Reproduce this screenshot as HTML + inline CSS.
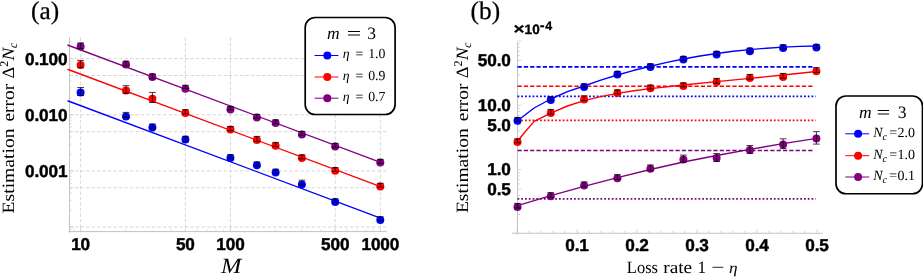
<!DOCTYPE html>
<html><head><meta charset="utf-8"><title>Estimation error plots</title>
<style>
html,body{margin:0;padding:0;background:#fff;}
body{width:923px;height:277px;overflow:hidden;font-family:"Liberation Sans",sans-serif;}
svg{display:block;will-change:transform;}
text{text-rendering:geometricPrecision;}
.sf{font-family:"Liberation Serif",serif;}
.sb{font-family:"Liberation Sans",sans-serif;font-weight:700;}
</style></head><body>
<svg width="923" height="277" viewBox="0 0 923 277">
<rect width="923" height="277" fill="#fff"/>
<g id="panelA">
<line x1="80.60" y1="37.5" x2="80.60" y2="231.6" stroke="#d3d3d3" stroke-width="0.9" stroke-dasharray="3.4 2.1"/>
<line x1="185.34" y1="37.5" x2="185.34" y2="231.6" stroke="#d3d3d3" stroke-width="0.9" stroke-dasharray="3.4 2.1"/>
<line x1="230.45" y1="37.5" x2="230.45" y2="231.6" stroke="#d3d3d3" stroke-width="0.9" stroke-dasharray="3.4 2.1"/>
<line x1="335.19" y1="37.5" x2="335.19" y2="231.6" stroke="#d3d3d3" stroke-width="0.9" stroke-dasharray="3.4 2.1"/>
<line x1="380.30" y1="37.5" x2="380.30" y2="231.6" stroke="#d3d3d3" stroke-width="0.9" stroke-dasharray="3.4 2.1"/>
<line x1="69.5" y1="58.60" x2="387.0" y2="58.60" stroke="#d3d3d3" stroke-width="0.9" stroke-dasharray="3.4 2.1"/>
<line x1="69.5" y1="75.50" x2="387.0" y2="75.50" stroke="#d3d3d3" stroke-width="0.9" stroke-dasharray="3.4 2.1"/>
<line x1="69.5" y1="114.75" x2="387.0" y2="114.75" stroke="#d3d3d3" stroke-width="0.9" stroke-dasharray="3.4 2.1"/>
<line x1="69.5" y1="131.65" x2="387.0" y2="131.65" stroke="#d3d3d3" stroke-width="0.9" stroke-dasharray="3.4 2.1"/>
<line x1="69.5" y1="170.90" x2="387.0" y2="170.90" stroke="#d3d3d3" stroke-width="0.9" stroke-dasharray="3.4 2.1"/>
<line x1="69.5" y1="187.80" x2="387.0" y2="187.80" stroke="#d3d3d3" stroke-width="0.9" stroke-dasharray="3.4 2.1"/>
<line x1="69.5" y1="227.05" x2="387.0" y2="227.05" stroke="#d3d3d3" stroke-width="0.9" stroke-dasharray="3.4 2.1"/>
<path d="M69.5 37.5V232.6M68.3 231.6H387.0" fill="none" stroke="#c2c2c2" stroke-width="1"/>
<path d="M69.5 229.62h2M69.5 227.05h4M69.5 210.15h2M69.5 200.26h2M69.5 193.24h2M69.5 187.80h3M69.5 183.36h2M69.5 179.60h2M69.5 176.34h2M69.5 173.47h2M69.5 170.90h4M69.5 154.00h2M69.5 144.11h2M69.5 137.09h2M69.5 131.65h3M69.5 127.21h2M69.5 123.45h2M69.5 120.19h2M69.5 117.32h2M69.5 114.75h4M69.5 97.85h2M69.5 87.96h2M69.5 80.94h2M69.5 75.50h3M69.5 71.06h2M69.5 67.30h2M69.5 64.04h2M69.5 61.17h2M69.5 58.60h4M69.5 41.70h2M73.74 231.6v-2M80.60 231.6v-4M125.71 231.6v-2M152.10 231.6v-2M170.82 231.6v-2M185.34 231.6v-3M197.21 231.6v-2M207.24 231.6v-2M215.93 231.6v-2M223.59 231.6v-2M230.45 231.6v-4M275.56 231.6v-2M301.95 231.6v-2M320.67 231.6v-2M335.19 231.6v-3M347.06 231.6v-2M357.09 231.6v-2M365.78 231.6v-2M373.44 231.6v-2M380.30 231.6v-4" fill="none" stroke="#cdcdcd" stroke-width="0.8"/>
<line x1="67.5" y1="100.75" x2="380.5" y2="218.03" stroke="#0000ff" stroke-width="1.35"/>
<line x1="67.5" y1="69.25" x2="380.5" y2="186.53" stroke="#ff0000" stroke-width="1.35"/>
<line x1="67.5" y1="45.0" x2="380.5" y2="162.28" stroke="#800080" stroke-width="1.35"/>
<circle cx="80.60" cy="92.50" r="4.0" fill="#0000ff"/>
<path d="M80.60 87.50V95.50M77.20 87.50h6.8M77.20 95.50h6.8" fill="none" stroke="#000" stroke-opacity="0.74" stroke-width="1"/>
<circle cx="126.00" cy="116.50" r="4.0" fill="#0000ff"/>
<path d="M126.00 112.40V117.30M122.60 112.40h6.8M122.60 117.30h6.8" fill="none" stroke="#000" stroke-opacity="0.74" stroke-width="1"/>
<circle cx="152.40" cy="127.50" r="4.0" fill="#0000ff"/>
<path d="M152.40 124.00V128.30M149.00 124.00h6.8M149.00 128.30h6.8" fill="none" stroke="#000" stroke-opacity="0.74" stroke-width="1"/>
<circle cx="185.40" cy="139.50" r="4.0" fill="#0000ff"/>
<path d="M185.40 136.30V141.80M182.00 136.30h6.8M182.00 141.80h6.8" fill="none" stroke="#000" stroke-opacity="0.74" stroke-width="1"/>
<circle cx="230.45" cy="158.00" r="4.0" fill="#0000ff"/>
<path d="M230.45 154.70V158.80M227.05 154.70h6.8M227.05 158.80h6.8" fill="none" stroke="#000" stroke-opacity="0.74" stroke-width="1"/>
<circle cx="256.90" cy="165.25" r="4.0" fill="#0000ff"/>
<path d="M256.90 161.95V166.05M253.50 161.95h6.8M253.50 166.05h6.8" fill="none" stroke="#000" stroke-opacity="0.74" stroke-width="1"/>
<circle cx="275.60" cy="172.50" r="4.0" fill="#0000ff"/>
<path d="M275.60 169.20V173.30M272.20 169.20h6.8M272.20 173.30h6.8" fill="none" stroke="#000" stroke-opacity="0.74" stroke-width="1"/>
<circle cx="301.90" cy="184.40" r="4.0" fill="#0000ff"/>
<path d="M301.90 180.20V185.20M298.50 180.20h6.8M298.50 185.20h6.8" fill="none" stroke="#000" stroke-opacity="0.74" stroke-width="1"/>
<circle cx="335.20" cy="202.00" r="4.0" fill="#0000ff"/>
<path d="M335.20 198.90V202.80M331.80 198.90h6.8M331.80 202.80h6.8" fill="none" stroke="#000" stroke-opacity="0.74" stroke-width="1"/>
<circle cx="380.30" cy="220.00" r="4.0" fill="#0000ff"/>
<path d="M380.30 216.90V220.80M376.90 216.90h6.8M376.90 220.80h6.8" fill="none" stroke="#000" stroke-opacity="0.74" stroke-width="1"/>
<circle cx="80.60" cy="65.00" r="4.0" fill="#ff0000"/>
<path d="M80.60 60.40V67.70M77.20 60.40h6.8M77.20 67.70h6.8" fill="none" stroke="#000" stroke-opacity="0.74" stroke-width="1"/>
<circle cx="126.00" cy="90.50" r="4.0" fill="#ff0000"/>
<path d="M126.00 85.70V93.30M122.60 85.70h6.8M122.60 93.30h6.8" fill="none" stroke="#000" stroke-opacity="0.74" stroke-width="1"/>
<circle cx="152.40" cy="98.75" r="4.0" fill="#ff0000"/>
<path d="M152.40 92.45V102.45M149.00 92.45h6.8M149.00 102.45h6.8" fill="none" stroke="#000" stroke-opacity="0.74" stroke-width="1"/>
<circle cx="185.40" cy="113.00" r="4.0" fill="#ff0000"/>
<path d="M185.40 109.70V113.90M182.00 109.70h6.8M182.00 113.90h6.8" fill="none" stroke="#000" stroke-opacity="0.74" stroke-width="1"/>
<circle cx="230.45" cy="129.50" r="4.0" fill="#ff0000"/>
<path d="M230.45 126.60V130.70M227.05 126.60h6.8M227.05 130.70h6.8" fill="none" stroke="#000" stroke-opacity="0.74" stroke-width="1"/>
<circle cx="256.90" cy="140.00" r="4.0" fill="#ff0000"/>
<path d="M256.90 136.40V141.40M253.50 136.40h6.8M253.50 141.40h6.8" fill="none" stroke="#000" stroke-opacity="0.74" stroke-width="1"/>
<circle cx="275.60" cy="145.75" r="4.0" fill="#ff0000"/>
<path d="M275.60 142.65V146.55M272.20 142.65h6.8M272.20 146.55h6.8" fill="none" stroke="#000" stroke-opacity="0.74" stroke-width="1"/>
<circle cx="301.90" cy="158.00" r="4.0" fill="#ff0000"/>
<path d="M301.90 154.90V158.80M298.50 154.90h6.8M298.50 158.80h6.8" fill="none" stroke="#000" stroke-opacity="0.74" stroke-width="1"/>
<circle cx="335.20" cy="170.75" r="4.0" fill="#ff0000"/>
<path d="M335.20 167.65V171.55M331.80 167.65h6.8M331.80 171.55h6.8" fill="none" stroke="#000" stroke-opacity="0.74" stroke-width="1"/>
<circle cx="380.30" cy="186.40" r="4.0" fill="#ff0000"/>
<path d="M380.30 183.30V187.20M376.90 183.30h6.8M376.90 187.20h6.8" fill="none" stroke="#000" stroke-opacity="0.74" stroke-width="1"/>
<circle cx="80.60" cy="46.60" r="4.0" fill="#800080"/>
<path d="M80.60 43.00V48.60M77.20 43.00h6.8M77.20 48.60h6.8" fill="none" stroke="#000" stroke-opacity="0.74" stroke-width="1"/>
<circle cx="126.00" cy="64.50" r="4.0" fill="#800080"/>
<path d="M126.00 61.20V65.90M122.60 61.20h6.8M122.60 65.90h6.8" fill="none" stroke="#000" stroke-opacity="0.74" stroke-width="1"/>
<circle cx="152.40" cy="77.00" r="4.0" fill="#800080"/>
<path d="M152.40 74.00V78.80M149.00 74.00h6.8M149.00 78.80h6.8" fill="none" stroke="#000" stroke-opacity="0.74" stroke-width="1"/>
<circle cx="185.40" cy="88.75" r="4.0" fill="#800080"/>
<path d="M185.40 85.25V88.45M182.00 85.25h6.8M182.00 88.45h6.8" fill="none" stroke="#000" stroke-opacity="0.74" stroke-width="1"/>
<circle cx="230.45" cy="109.50" r="4.0" fill="#800080"/>
<path d="M230.45 106.50V109.80M227.05 106.50h6.8M227.05 109.80h6.8" fill="none" stroke="#000" stroke-opacity="0.74" stroke-width="1"/>
<circle cx="256.90" cy="117.50" r="4.0" fill="#800080"/>
<path d="M256.90 114.40V118.30M253.50 114.40h6.8M253.50 118.30h6.8" fill="none" stroke="#000" stroke-opacity="0.74" stroke-width="1"/>
<circle cx="275.60" cy="123.00" r="4.0" fill="#800080"/>
<path d="M275.60 119.90V123.80M272.20 119.90h6.8M272.20 123.80h6.8" fill="none" stroke="#000" stroke-opacity="0.74" stroke-width="1"/>
<circle cx="301.90" cy="134.50" r="4.0" fill="#800080"/>
<path d="M301.90 131.40V135.30M298.50 131.40h6.8M298.50 135.30h6.8" fill="none" stroke="#000" stroke-opacity="0.74" stroke-width="1"/>
<circle cx="335.20" cy="146.50" r="4.0" fill="#800080"/>
<path d="M335.20 143.40V147.30M331.80 143.40h6.8M331.80 147.30h6.8" fill="none" stroke="#000" stroke-opacity="0.74" stroke-width="1"/>
<circle cx="380.30" cy="162.50" r="4.0" fill="#800080"/>
<path d="M380.30 159.40V163.30M376.90 159.40h6.8M376.90 163.30h6.8" fill="none" stroke="#000" stroke-opacity="0.74" stroke-width="1"/>
<text x="67.3" y="64.50" text-anchor="end" class="sb" font-size="17.2" letter-spacing="-0.15" fill="#000" stroke="#000" stroke-width="0.45" stroke-linejoin="round">0.100</text>
<text x="67.3" y="120.65" text-anchor="end" class="sb" font-size="17.2" letter-spacing="-0.15" fill="#000" stroke="#000" stroke-width="0.45" stroke-linejoin="round">0.010</text>
<text x="67.3" y="176.80" text-anchor="end" class="sb" font-size="17.2" letter-spacing="-0.15" fill="#000" stroke="#000" stroke-width="0.45" stroke-linejoin="round">0.001</text>
<text x="80.60" y="250.3" text-anchor="middle" class="sb" font-size="17.2" letter-spacing="-0.15" fill="#000" stroke="#000" stroke-width="0.45" stroke-linejoin="round">10</text>
<text x="185.34" y="250.3" text-anchor="middle" class="sb" font-size="17.2" letter-spacing="-0.15" fill="#000" stroke="#000" stroke-width="0.45" stroke-linejoin="round">50</text>
<text x="230.45" y="250.3" text-anchor="middle" class="sb" font-size="17.2" letter-spacing="-0.15" fill="#000" stroke="#000" stroke-width="0.45" stroke-linejoin="round">100</text>
<text x="335.19" y="250.3" text-anchor="middle" class="sb" font-size="17.2" letter-spacing="-0.15" fill="#000" stroke="#000" stroke-width="0.45" stroke-linejoin="round">500</text>
<text x="380.30" y="250.3" text-anchor="middle" class="sb" font-size="17.2" letter-spacing="-0.15" fill="#000" stroke="#000" stroke-width="0.45" stroke-linejoin="round">1000</text>
<text x="221.0" y="273.2" class="sf" font-style="italic" font-size="21.7" textLength="20.4" lengthAdjust="spacingAndGlyphs">M</text>
<g transform="translate(14.4 213.1) rotate(-90)" class="sf" font-size="17.3" fill="#000"><text x="-0.30" y="0" textLength="84.90" lengthAdjust="spacingAndGlyphs" >Estimation</text><text x="91.60" y="0" textLength="37.70" lengthAdjust="spacingAndGlyphs" >error</text><text x="134.60" y="0" textLength="11.80" lengthAdjust="spacingAndGlyphs" >Δ</text><text x="146.3" y="-6.4" font-size="12" textLength="6" lengthAdjust="spacingAndGlyphs">2</text><text x="152.60" y="0" textLength="12.80" lengthAdjust="spacingAndGlyphs" font-style="italic">N</text><text x="165.0" y="2.8" font-size="12" font-style="italic" textLength="5.2" lengthAdjust="spacingAndGlyphs">c</text></g>
<text x="31.0" y="18.95" class="sf" font-size="25.3" stroke="#000" stroke-width="0.25">(a)</text>
<rect x="305.2" y="17.5" width="89.9" height="97.0" rx="10" ry="10" fill="#fff" stroke="#000" stroke-width="1.7"/>
<text class="sf" font-size="17.5" y="38.5"><tspan x="327.1" font-style="italic">m</tspan><tspan x="346.70000000000005" textLength="14.5" lengthAdjust="spacingAndGlyphs">=</tspan><tspan x="367.3">3</tspan></text>
<line x1="314.5" y1="55.5" x2="338.4" y2="55.5" stroke="#0000ff" stroke-width="1"/>
<circle cx="327.3" cy="55.5" r="4" fill="#0000ff"/>
<text class="sf" font-size="13.8" y="58.2"><tspan x="342.8" font-style="italic">η</tspan><tspan x="355.59999999999997">=</tspan><tspan x="368.2">1.0</tspan></text>
<line x1="314.5" y1="77" x2="338.4" y2="77" stroke="#ff0000" stroke-width="1"/>
<circle cx="327.3" cy="77" r="4" fill="#ff0000"/>
<text class="sf" font-size="13.8" y="79.7"><tspan x="342.8" font-style="italic">η</tspan><tspan x="355.59999999999997">=</tspan><tspan x="368.2">0.9</tspan></text>
<line x1="314.5" y1="98.2" x2="338.4" y2="98.2" stroke="#800080" stroke-width="1"/>
<circle cx="327.3" cy="98.2" r="4" fill="#800080"/>
<text class="sf" font-size="13.8" y="100.9"><tspan x="342.8" font-style="italic">η</tspan><tspan x="355.59999999999997">=</tspan><tspan x="368.2">0.7</tspan></text>
</g>
<g id="panelB">
<path d="M517.5 42.0V234.55M512 233.25H823.0" fill="none" stroke="#c2c2c2" stroke-width="1"/>
<path d="M517.5 214.64h2.5M517.5 203.32h2.5M517.5 195.29h2.5M517.5 189.06h4M517.5 183.96h2.5M517.5 179.66h2.5M517.5 175.93h2.5M517.5 172.64h2.5M517.5 169.70h4M517.5 150.34h2.5M517.5 139.02h2.5M517.5 130.99h2.5M517.5 124.76h4M517.5 119.66h2.5M517.5 115.36h2.5M517.5 111.63h2.5M517.5 108.34h2.5M517.5 105.40h4M517.5 86.04h2.5M517.5 74.72h2.5M517.5 66.69h2.5M517.5 60.46h4M517.5 55.36h2.5M517.5 51.06h2.5M517.5 47.33h2.5M517.5 44.04h2.5M517.5 41.10h4M517.00 233.25v-4M529.00 233.25v-2.5M541.00 233.25v-2.5M553.00 233.25v-2.5M565.00 233.25v-2.5M577.00 233.25v-4M589.00 233.25v-2.5M601.00 233.25v-2.5M613.00 233.25v-2.5M625.00 233.25v-2.5M637.00 233.25v-4M649.00 233.25v-2.5M661.00 233.25v-2.5M673.00 233.25v-2.5M685.00 233.25v-2.5M697.00 233.25v-4M709.00 233.25v-2.5M721.00 233.25v-2.5M733.00 233.25v-2.5M745.00 233.25v-2.5M757.00 233.25v-4M769.00 233.25v-2.5M781.00 233.25v-2.5M793.00 233.25v-2.5M805.00 233.25v-2.5M817.00 233.25v-4" fill="none" stroke="#cdcdcd" stroke-width="0.8"/>
<line x1="517.5" y1="66.9" x2="814.6" y2="66.9" stroke="#0000ff" stroke-width="1.65" stroke-dasharray="4.25 2.07"/>
<line x1="517.5" y1="86.25" x2="814.6" y2="86.25" stroke="#ff0000" stroke-width="1.65" stroke-dasharray="4.25 2.07"/>
<line x1="517.5" y1="96.4" x2="815.8" y2="96.4" stroke="#0000ff" stroke-width="1.65" stroke-dasharray="1.75 2.02"/>
<line x1="517.5" y1="120.3" x2="815.8" y2="120.3" stroke="#ff0000" stroke-width="1.65" stroke-dasharray="1.75 2.02"/>
<line x1="517.5" y1="150.5" x2="814.6" y2="150.5" stroke="#800080" stroke-width="1.65" stroke-dasharray="4.25 2.07"/>
<line x1="517.5" y1="198.8" x2="815.8" y2="198.8" stroke="#800080" stroke-width="1.65" stroke-dasharray="1.75 2.02"/>
<path d="M517.50 120.70L534.10 108.00L550.75 99.00L567.40 91.70L584.10 86.00L600.80 80.20L617.40 75.00L634.00 70.30L650.40 66.20L667.00 62.40L683.40 59.00L700.00 56.00L716.60 53.50L733.20 51.30L749.90 49.60L766.50 48.20L783.10 47.10L800.00 46.40L816.40 46.00" fill="none" stroke="#0000ff" stroke-width="1.4" stroke-linejoin="round"/>
<path d="M517.50 141.30L525.00 132.00L534.10 121.40L550.75 113.20L567.40 106.00L584.10 100.60L600.80 96.60L617.40 93.40L634.00 90.80L650.40 88.60L683.40 85.00L716.60 81.60L749.90 78.40L783.10 75.00L816.40 71.50" fill="none" stroke="#ff0000" stroke-width="1.4" stroke-linejoin="round"/>
<path d="M517.50 205.60L550.75 195.60L584.10 186.40L617.40 177.60L650.40 169.50L683.40 162.00L716.60 155.50L749.90 149.40L783.10 143.60L816.40 138.40" fill="none" stroke="#800080" stroke-width="1.4" stroke-linejoin="round"/>
<circle cx="517.50" cy="120.75" r="4.0" fill="#0000ff"/>
<path d="M517.50 117.65V121.55M514.10 117.65h6.8M514.10 121.55h6.8" fill="none" stroke="#000" stroke-opacity="0.74" stroke-width="1"/>
<circle cx="550.75" cy="100.00" r="4.0" fill="#0000ff"/>
<path d="M550.75 96.90V100.80M547.35 96.90h6.8M547.35 100.80h6.8" fill="none" stroke="#000" stroke-opacity="0.74" stroke-width="1"/>
<circle cx="584.10" cy="87.00" r="4.0" fill="#0000ff"/>
<path d="M584.10 83.90V87.80M580.70 83.90h6.8M580.70 87.80h6.8" fill="none" stroke="#000" stroke-opacity="0.74" stroke-width="1"/>
<circle cx="617.40" cy="74.50" r="4.0" fill="#0000ff"/>
<path d="M617.40 71.40V75.30M614.00 71.40h6.8M614.00 75.30h6.8" fill="none" stroke="#000" stroke-opacity="0.74" stroke-width="1"/>
<circle cx="650.40" cy="66.90" r="4.0" fill="#0000ff"/>
<path d="M650.40 63.80V67.70M647.00 63.80h6.8M647.00 67.70h6.8" fill="none" stroke="#000" stroke-opacity="0.74" stroke-width="1"/>
<circle cx="683.40" cy="59.50" r="4.0" fill="#0000ff"/>
<path d="M683.40 56.40V60.30M680.00 56.40h6.8M680.00 60.30h6.8" fill="none" stroke="#000" stroke-opacity="0.74" stroke-width="1"/>
<circle cx="716.60" cy="54.50" r="4.0" fill="#0000ff"/>
<path d="M716.60 51.40V55.30M713.20 51.40h6.8M713.20 55.30h6.8" fill="none" stroke="#000" stroke-opacity="0.74" stroke-width="1"/>
<circle cx="749.90" cy="51.25" r="4.0" fill="#0000ff"/>
<path d="M749.90 48.15V52.05M746.50 48.15h6.8M746.50 52.05h6.8" fill="none" stroke="#000" stroke-opacity="0.74" stroke-width="1"/>
<circle cx="783.10" cy="48.00" r="4.0" fill="#0000ff"/>
<path d="M783.10 44.90V48.80M779.70 44.90h6.8M779.70 48.80h6.8" fill="none" stroke="#000" stroke-opacity="0.74" stroke-width="1"/>
<circle cx="816.40" cy="47.50" r="4.0" fill="#0000ff"/>
<path d="M816.40 44.40V48.30M813.00 44.40h6.8M813.00 48.30h6.8" fill="none" stroke="#000" stroke-opacity="0.74" stroke-width="1"/>
<circle cx="517.50" cy="142.00" r="4.0" fill="#ff0000"/>
<path d="M517.50 138.90V142.80M514.10 138.90h6.8M514.10 142.80h6.8" fill="none" stroke="#000" stroke-opacity="0.74" stroke-width="1"/>
<circle cx="550.75" cy="113.00" r="4.0" fill="#ff0000"/>
<path d="M550.75 109.40V114.20M547.35 109.40h6.8M547.35 114.20h6.8" fill="none" stroke="#000" stroke-opacity="0.74" stroke-width="1"/>
<circle cx="584.10" cy="99.50" r="4.0" fill="#ff0000"/>
<path d="M584.10 95.90V100.70M580.70 95.90h6.8M580.70 100.70h6.8" fill="none" stroke="#000" stroke-opacity="0.74" stroke-width="1"/>
<circle cx="617.40" cy="93.00" r="4.0" fill="#ff0000"/>
<path d="M617.40 89.90V93.80M614.00 89.90h6.8M614.00 93.80h6.8" fill="none" stroke="#000" stroke-opacity="0.74" stroke-width="1"/>
<circle cx="650.40" cy="88.25" r="4.0" fill="#ff0000"/>
<path d="M650.40 85.15V89.05M647.00 85.15h6.8M647.00 89.05h6.8" fill="none" stroke="#000" stroke-opacity="0.74" stroke-width="1"/>
<circle cx="683.40" cy="86.00" r="4.0" fill="#ff0000"/>
<path d="M683.40 82.90V86.80M680.00 82.90h6.8M680.00 86.80h6.8" fill="none" stroke="#000" stroke-opacity="0.74" stroke-width="1"/>
<circle cx="716.60" cy="82.00" r="4.0" fill="#ff0000"/>
<path d="M716.60 78.40V83.20M713.20 78.40h6.8M713.20 83.20h6.8" fill="none" stroke="#000" stroke-opacity="0.74" stroke-width="1"/>
<circle cx="749.90" cy="78.00" r="4.0" fill="#ff0000"/>
<path d="M749.90 74.40V79.20M746.50 74.40h6.8M746.50 79.20h6.8" fill="none" stroke="#000" stroke-opacity="0.74" stroke-width="1"/>
<circle cx="783.10" cy="77.00" r="4.0" fill="#ff0000"/>
<path d="M783.10 73.40V78.20M779.70 73.40h6.8M779.70 78.20h6.8" fill="none" stroke="#000" stroke-opacity="0.74" stroke-width="1"/>
<circle cx="816.40" cy="71.25" r="4.0" fill="#ff0000"/>
<path d="M816.40 67.65V72.45M813.00 67.65h6.8M813.00 72.45h6.8" fill="none" stroke="#000" stroke-opacity="0.74" stroke-width="1"/>
<circle cx="517.50" cy="207.00" r="4.0" fill="#800080"/>
<path d="M517.50 203.40V208.00M514.10 203.40h6.8M514.10 208.00h6.8" fill="none" stroke="#000" stroke-opacity="0.74" stroke-width="1"/>
<circle cx="550.75" cy="196.25" r="4.0" fill="#800080"/>
<path d="M550.75 192.65V197.45M547.35 192.65h6.8M547.35 197.45h6.8" fill="none" stroke="#000" stroke-opacity="0.74" stroke-width="1"/>
<circle cx="584.10" cy="185.50" r="4.0" fill="#800080"/>
<path d="M584.10 181.90V186.70M580.70 181.90h6.8M580.70 186.70h6.8" fill="none" stroke="#000" stroke-opacity="0.74" stroke-width="1"/>
<circle cx="617.40" cy="178.25" r="4.0" fill="#800080"/>
<path d="M617.40 174.65V179.45M614.00 174.65h6.8M614.00 179.45h6.8" fill="none" stroke="#000" stroke-opacity="0.74" stroke-width="1"/>
<circle cx="650.40" cy="168.75" r="4.0" fill="#800080"/>
<path d="M650.40 164.95V170.35M647.00 164.95h6.8M647.00 170.35h6.8" fill="none" stroke="#000" stroke-opacity="0.74" stroke-width="1"/>
<circle cx="683.40" cy="159.50" r="4.0" fill="#800080"/>
<path d="M683.40 155.10V162.10M680.00 155.10h6.8M680.00 162.10h6.8" fill="none" stroke="#000" stroke-opacity="0.74" stroke-width="1"/>
<circle cx="716.60" cy="158.00" r="4.0" fill="#800080"/>
<path d="M716.60 153.50V161.50M713.20 153.50h6.8M713.20 161.50h6.8" fill="none" stroke="#000" stroke-opacity="0.74" stroke-width="1"/>
<circle cx="749.90" cy="150.00" r="4.0" fill="#800080"/>
<path d="M749.90 145.50V153.40M746.50 145.50h6.8M746.50 153.40h6.8" fill="none" stroke="#000" stroke-opacity="0.74" stroke-width="1"/>
<circle cx="783.10" cy="144.50" r="4.0" fill="#800080"/>
<path d="M783.10 138.80V148.60M779.70 138.80h6.8M779.70 148.60h6.8" fill="none" stroke="#000" stroke-opacity="0.74" stroke-width="1"/>
<circle cx="816.40" cy="138.50" r="4.0" fill="#800080"/>
<path d="M816.40 131.60V144.10M813.00 131.60h6.8M813.00 144.10h6.8" fill="none" stroke="#000" stroke-opacity="0.74" stroke-width="1"/>
<text x="510.7" y="65.60" text-anchor="end" class="sb" font-size="17.2" letter-spacing="-0.15" fill="#000" stroke="#000" stroke-width="0.45" stroke-linejoin="round">50.0</text>
<text x="510.7" y="110.55" text-anchor="end" class="sb" font-size="17.2" letter-spacing="-0.15" fill="#000" stroke="#000" stroke-width="0.45" stroke-linejoin="round">10.0</text>
<text x="510.7" y="131.40" text-anchor="end" class="sb" font-size="17.2" letter-spacing="-0.15" fill="#000" stroke="#000" stroke-width="0.45" stroke-linejoin="round">5.0</text>
<text x="510.7" y="175.25" text-anchor="end" class="sb" font-size="17.2" letter-spacing="-0.15" fill="#000" stroke="#000" stroke-width="0.45" stroke-linejoin="round">1.0</text>
<text x="510.7" y="194.90" text-anchor="end" class="sb" font-size="17.2" letter-spacing="-0.15" fill="#000" stroke="#000" stroke-width="0.45" stroke-linejoin="round">0.5</text>
<text x="577.00" y="250.5" text-anchor="middle" class="sb" font-size="17.2" letter-spacing="-0.15" fill="#000" stroke="#000" stroke-width="0.45" stroke-linejoin="round">0.1</text>
<text x="637.00" y="250.5" text-anchor="middle" class="sb" font-size="17.2" letter-spacing="-0.15" fill="#000" stroke="#000" stroke-width="0.45" stroke-linejoin="round">0.2</text>
<text x="697.00" y="250.5" text-anchor="middle" class="sb" font-size="17.2" letter-spacing="-0.15" fill="#000" stroke="#000" stroke-width="0.45" stroke-linejoin="round">0.3</text>
<text x="757.00" y="250.5" text-anchor="middle" class="sb" font-size="17.2" letter-spacing="-0.15" fill="#000" stroke="#000" stroke-width="0.45" stroke-linejoin="round">0.4</text>
<text x="817.00" y="250.5" text-anchor="middle" class="sb" font-size="17.2" letter-spacing="-0.15" fill="#000" stroke="#000" stroke-width="0.45" stroke-linejoin="round">0.5</text>
<g class="sb" fill="#000"><text x="513.6" y="33.8" font-size="15.5" textLength="11" lengthAdjust="spacingAndGlyphs" stroke="#000" stroke-width="0.3">×</text><text x="524.6" y="33.8" font-size="13.6" stroke="#000" stroke-width="0.3">10</text><text x="539.7" y="30.3" font-size="14.5" stroke="#000" stroke-width="0.3">-</text><text x="545.2" y="29.7" font-size="12.4" stroke="#000" stroke-width="0.3">4</text></g>
<text x="470.6" y="19.1" class="sf" font-size="25.3" stroke="#000" stroke-width="0.25">(b)</text>
<g transform="translate(467.9 212.8) rotate(-90)" class="sf" font-size="17.3" fill="#000"><text x="-0.30" y="0" textLength="84.90" lengthAdjust="spacingAndGlyphs" >Estimation</text><text x="91.60" y="0" textLength="37.70" lengthAdjust="spacingAndGlyphs" >error</text><text x="134.60" y="0" textLength="11.80" lengthAdjust="spacingAndGlyphs" >Δ</text><text x="146.3" y="-6.4" font-size="12" textLength="6" lengthAdjust="spacingAndGlyphs">2</text><text x="152.60" y="0" textLength="12.80" lengthAdjust="spacingAndGlyphs" font-style="italic">N</text><text x="165.0" y="2.8" font-size="12" font-style="italic" textLength="5.2" lengthAdjust="spacingAndGlyphs">c</text></g>
<g class="sf" font-size="17.3" fill="#000"><text x="626.80" y="272.8" textLength="31.20" lengthAdjust="spacingAndGlyphs" >Loss</text><text x="663.20" y="272.8" textLength="29.00" lengthAdjust="spacingAndGlyphs" >rate</text><text x="697.60" y="272.8" textLength="8.60" lengthAdjust="spacingAndGlyphs" >1</text><text x="711.30" y="272.8" textLength="13.20" lengthAdjust="spacingAndGlyphs" >−</text><text x="729.00" y="272.8" textLength="8.60" lengthAdjust="spacingAndGlyphs" font-style="italic" font-size="15.6">η</text></g>
<rect x="836" y="96" width="86.5" height="97.75" rx="10" ry="10" fill="#fff" stroke="#000" stroke-width="1.7"/>
<text class="sf" font-size="17.5" y="117.5"><tspan x="859.1" font-style="italic">m</tspan><tspan x="876.5" textLength="13.8" lengthAdjust="spacingAndGlyphs">=</tspan><tspan x="897.7">3</tspan></text>
<line x1="845.3" y1="133.8" x2="869.2" y2="133.8" stroke="#0000ff" stroke-width="1"/>
<circle cx="858.1" cy="133.8" r="4" fill="#0000ff"/>
<text class="sf" font-size="14" y="137.10000000000002"><tspan x="873.2" font-style="italic">N</tspan><tspan font-style="italic" font-size="10" dy="2.6">c</tspan><tspan x="889.2" dy="-2.6">=</tspan><tspan x="897.6">2.0</tspan></text>
<line x1="845.3" y1="155.7" x2="869.2" y2="155.7" stroke="#ff0000" stroke-width="1"/>
<circle cx="858.1" cy="155.7" r="4" fill="#ff0000"/>
<text class="sf" font-size="14" y="159.0"><tspan x="873.2" font-style="italic">N</tspan><tspan font-style="italic" font-size="10" dy="2.6">c</tspan><tspan x="889.2" dy="-2.6">=</tspan><tspan x="897.6">1.0</tspan></text>
<line x1="845.3" y1="177" x2="869.2" y2="177" stroke="#800080" stroke-width="1"/>
<circle cx="858.1" cy="177" r="4" fill="#800080"/>
<text class="sf" font-size="14" y="180.3"><tspan x="873.2" font-style="italic">N</tspan><tspan font-style="italic" font-size="10" dy="2.6">c</tspan><tspan x="889.2" dy="-2.6">=</tspan><tspan x="897.6">0.1</tspan></text>
</g>
</svg>
</body></html>
